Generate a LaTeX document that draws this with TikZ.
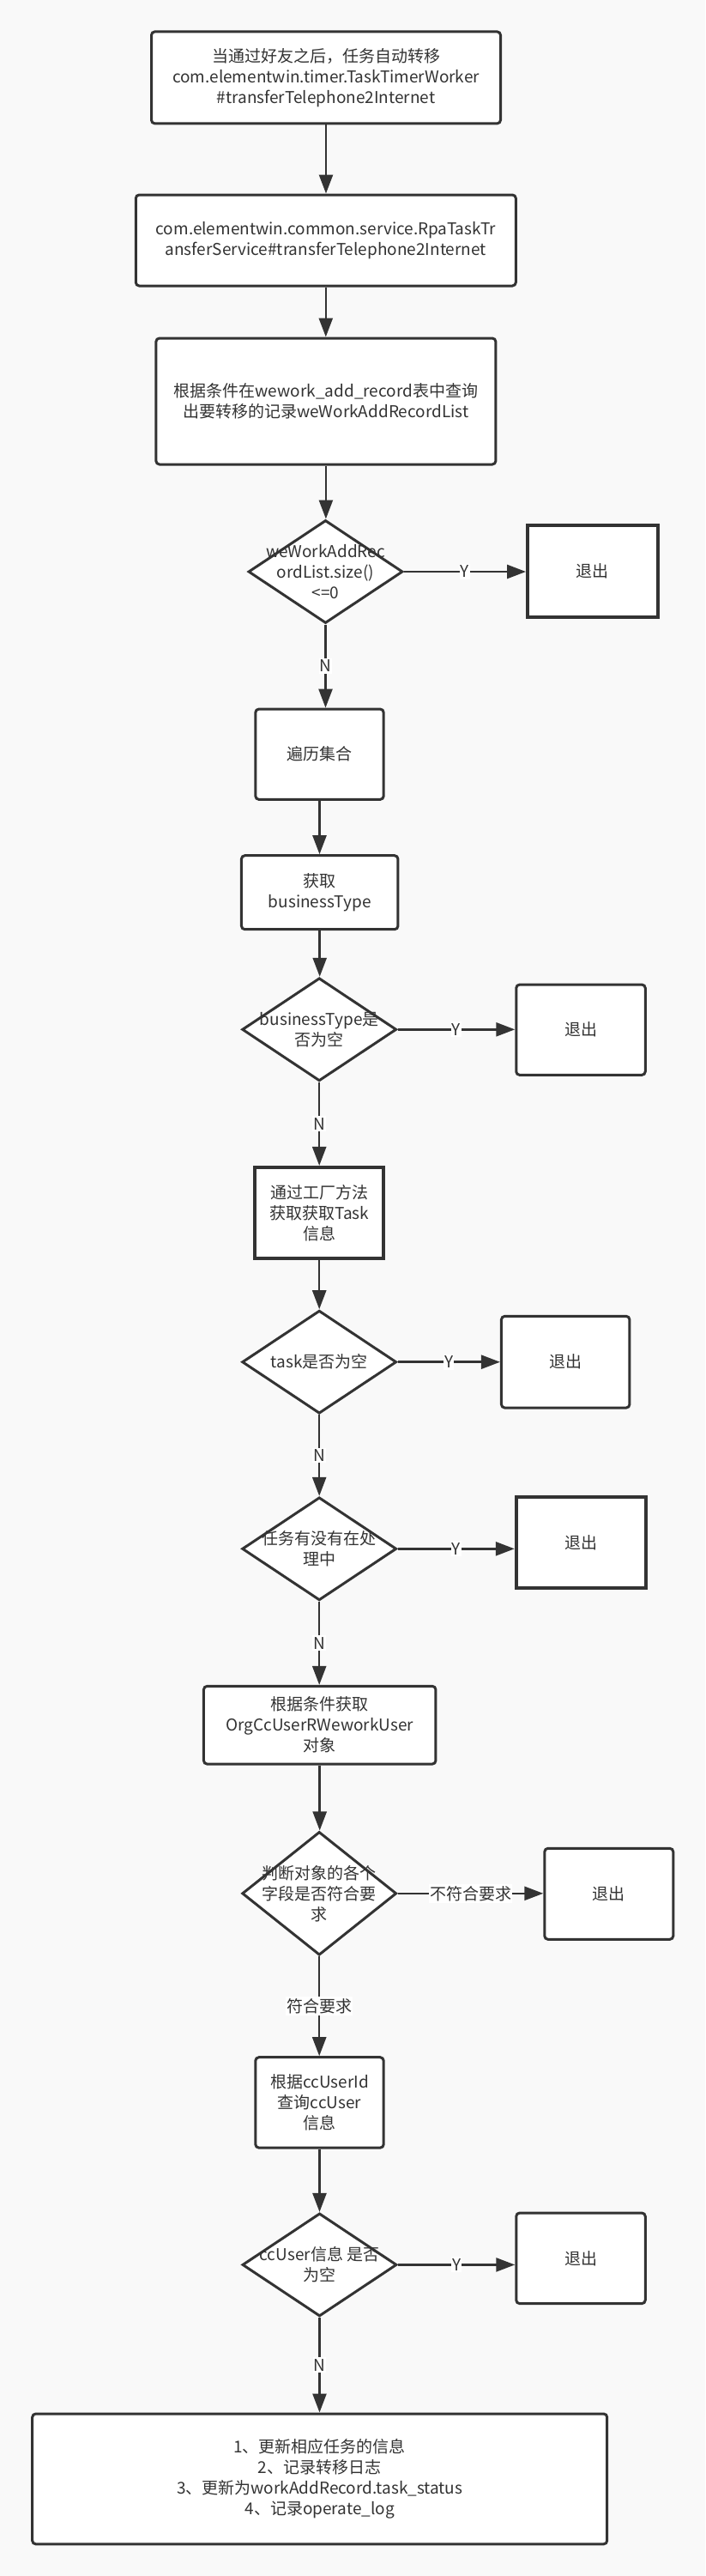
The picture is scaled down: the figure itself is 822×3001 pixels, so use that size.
\documentclass[tikz,border=0pt]{standalone}
\usepackage{fontspec}
\setmainfont{Noto Sans CJK SC}
\usetikzlibrary{shapes.geometric,arrows.meta}
\definecolor{bg}{HTML}{F9F9F9}
\definecolor{ink}{HTML}{333333}
\begin{document}
\begin{tikzpicture}[x=1pt,y=-1pt, font=\fontsize{19}{24}\selectfont,
 every node/.style={text=ink},
 rbox/.style={draw=ink, line width=3pt, fill=white, rounded corners=4pt, inner sep=0pt, align=center},
 sbox/.style={draw=ink, line width=4pt, fill=white, inner sep=0pt, align=center},
 dia/.style={draw=ink, line width=3pt, fill=white, diamond, inner sep=0pt, minimum width=180pt, minimum height=120pt},
 txt/.style={align=center, inner sep=0pt},
 conn/.style={draw=ink, line width=2.5pt, -{Triangle[length=22pt,width=16pt]}},
 lab/.style={fill=white, inner xsep=1pt, inner ysep=2pt}]
\fill[bg] (0,0) rectangle (822,3001);
\useasboundingbox (0,0) rectangle (822,3001);

% main column
\node[rbox, minimum width=407pt, minimum height=107pt] (b1) at (380,90.4)
  {当通过好友之后，任务自动转移\\com.elementwin.timer.TaskTimerWorker\\\#transferTelephone2Internet};
\node[rbox, minimum width=443pt, minimum height=106pt] (b2) at (379.8,280)
  {com.elementwin.common.service.RpaTaskTr\\ansferService\#transferTelephone2Internet};
\node[rbox, minimum width=396pt, minimum height=147pt] (b3) at (379.9,467.5)
  {根据条件在wework\_add\_record表中查询\\出要转移的记录weWorkAddRecordList};
\node[dia] (d1) at (379.5,666) {};
\node[txt] (t1) at (d1) {weWorkAddRec\\ordList.size()\\<=0};
\node[sbox, minimum width=151.5pt, minimum height=106.7pt] (e1) at (690.8,665.7) {退出};

\node[rbox, minimum width=149.4pt, minimum height=105.3pt] (b4) at (372.5,878.7) {遍历集合};
\node[rbox, minimum width=182.5pt, minimum height=86pt] (b5) at (372.7,1039.7) {获取\\businessType};
\node[dia] (d2) at (372.2,1199.3) {};
\node[txt] (t2) at (d2) {businessType是\\否为空};
\node[rbox, minimum width=150.5pt, minimum height=105.3pt] (e2) at (677,1199.7) {退出};

\node[sbox, minimum width=150pt, minimum height=105.7pt] (b6) at (372.2,1412.8) {通过工厂方法\\获取获取Task\\信息};
\node[dia] (d3) at (372.2,1586.7) {};
\node[txt] (t3) at (d3) {task是否为空};
\node[rbox, minimum width=149.5pt, minimum height=106.7pt] (e3) at (659.2,1586.7) {退出};

\node[dia] (d4) at (372.2,1804.3) {};
\node[txt] (t4) at (d4) {任务有没有在处\\理中};
\node[sbox, minimum width=151pt, minimum height=105.7pt] (e4) at (677.3,1797) {退出};

\node[rbox, minimum width=270.5pt, minimum height=90.7pt] (b7) at (372.7,2009.7) {根据条件获取\\OrgCcUserRWeworkUser\\对象};
\node[dia, minimum height=143.7pt] (d5) at (372.2,2205.8) {};
\node[txt] (t5) at (d5) {判断对象的各个\\字段是否符合要\\求};
\node[rbox, minimum width=150pt, minimum height=106pt] (e5) at (709.8,2206.3) {退出};

\node[rbox, minimum width=149.4pt, minimum height=105.4pt] (b8) at (372.5,2449.4) {根据ccUserId\\查询ccUser\\信息};
\node[dia] (d6) at (372.5,2638.4) {};
\node[txt] (t6) at (d6) {ccUser信息 是否\\为空};
\node[rbox, minimum width=150.5pt, minimum height=105.6pt] (e6) at (677,2630.8) {退出};

\node[rbox, minimum width=670pt, minimum height=151.8pt] (b9) at (372.7,2887.9)
  {1、更新相应任务的信息\\2、记录转移日志\\3、更新为workAddRecord.task\_status\\4、记录operate\_log};

% connectors
\draw[conn] (b1.south) -- (b1.south |- b2.north);
\draw[conn] (b2.south) -- (b2.south |- b3.north);
\draw[conn] (b3.south) -- (b3.south |- d1.north);
\draw[conn] (d1.east) -- node[lab]{Y} (d1.east -| e1.west);
\draw[conn] (d1.south) -- node[lab]{N} (d1.south |- b4.north);
\draw[conn] (b4.south) -- (b4.south |- b5.north);
\draw[conn] (b5.south) -- (b5.south |- d2.north);
\draw[conn] (d2.east) -- node[lab]{Y} (d2.east -| e2.west);
\draw[conn] (d2.south) -- node[lab]{N} (d2.south |- b6.north);
\draw[conn] (b6.south) -- (b6.south |- d3.north);
\draw[conn] (d3.east) -- node[lab]{Y} (d3.east -| e3.west);
\draw[conn] (d3.south) -- node[lab]{N} (d3.south |- d4.north);
\draw[conn] (d4.east) -- node[lab]{Y} (d4.east -| e4.west);
\draw[conn] (d4.south) -- node[lab]{N} (d4.south |- b7.north);
\draw[conn] (b7.south) -- (b7.south |- d5.north);
\draw[conn] (d5.east) -- node[lab]{不符合要求} (d5.east -| e5.west);
\draw[conn] (d5.south) -- node[lab]{符合要求} (d5.south |- b8.north);
\draw[conn] (b8.south) -- (b8.south |- d6.north);
\draw[conn] (d6.east) -- node[lab]{Y} (d6.east -| e6.west);
\draw[conn] (d6.south) -- node[lab]{N} (d6.south |- b9.north);
\end{tikzpicture}
\end{document}
